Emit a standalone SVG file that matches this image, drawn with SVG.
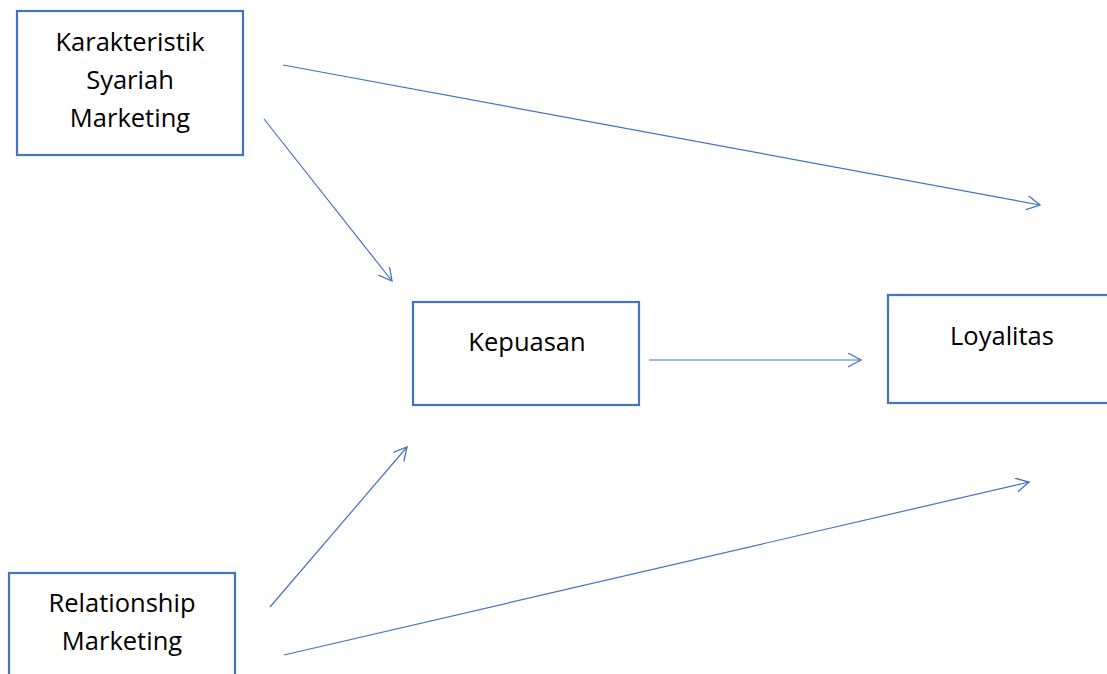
<svg xmlns="http://www.w3.org/2000/svg" width="1107" height="674" viewBox="0 0 1107 674">
  <style>
    .box { fill: #ffffff; stroke: #4472C4; stroke-width: 2.2; }
    .lbl { font-family: "Open Sans", "Liberation Sans", sans-serif; font-size: 25.5px; fill: #000000; text-anchor: middle; }
    .edge { stroke: #4472C4; stroke-width: 1.2; fill: none; marker-end: url(#arrow); }
  </style>
  <defs>
    <marker id="arrow" markerUnits="userSpaceOnUse" markerWidth="20" markerHeight="20" refX="14" refY="7" orient="auto">
      <path d="M1,0 L14,7 L1,14" fill="none" stroke="#4472C4" stroke-width="1.3"/>
    </marker>
  </defs>
  <rect width="1107" height="674" fill="#ffffff"/>
  <g id="node-karakteristik">
    <rect class="box" x="17" y="11" width="226" height="144"/>
    <text class="lbl" x="130" y="51">Karakteristik</text>
    <text class="lbl" x="130" y="89">Syariah</text>
    <text class="lbl" x="130" y="127">Marketing</text>
  </g>
  <g id="node-relationship">
    <rect class="box" x="9" y="573" width="226" height="130"/>
    <text class="lbl" x="122" y="612">Relationship</text>
    <text class="lbl" x="122" y="650">Marketing</text>
  </g>
  <g id="node-kepuasan">
    <rect class="box" x="413" y="302" width="226" height="103"/>
    <text class="lbl" x="527" y="351">Kepuasan</text>
  </g>
  <g id="node-loyalitas">
    <rect class="box" x="888" y="295" width="228" height="108"/>
    <text class="lbl" x="1002" y="345">Loyalitas</text>
  </g>
  <g id="connectors">
    <line class="edge" x1="283" y1="65" x2="1040" y2="205"/>
    <line class="edge" x1="264" y1="119" x2="392" y2="281"/>
    <line class="edge" x1="649" y1="360" x2="861" y2="360"/>
    <line class="edge" x1="270" y1="607" x2="407" y2="447"/>
    <line class="edge" x1="284" y1="655" x2="1029" y2="482"/>
  </g>
</svg>
